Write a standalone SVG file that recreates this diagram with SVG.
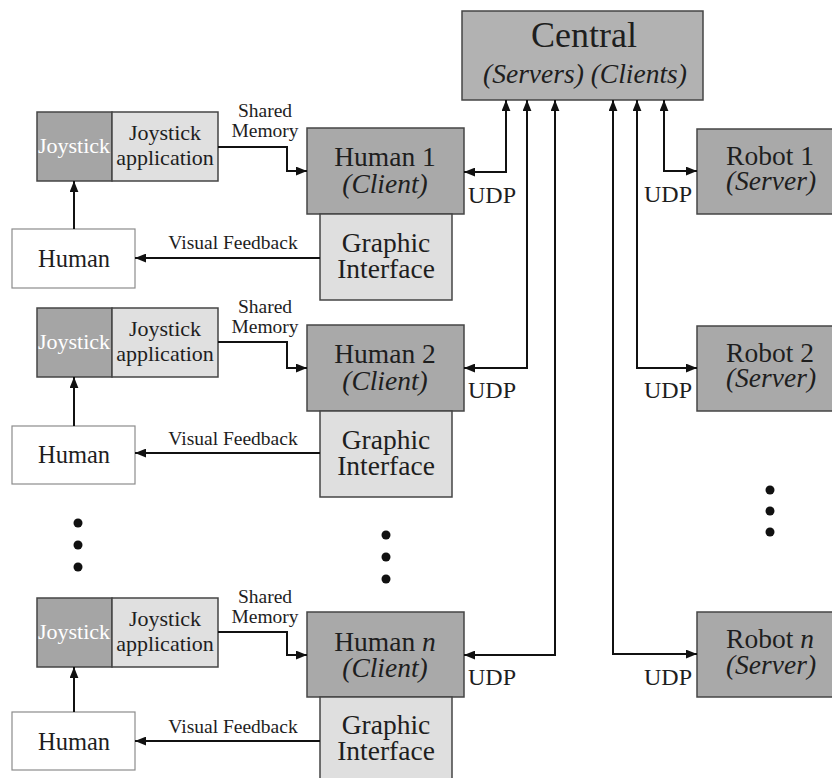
<svg xmlns="http://www.w3.org/2000/svg" width="832" height="778" viewBox="0 0 832 778">
  <defs>
    <marker id="ah" viewBox="0 0 10 8" refX="10" refY="4" markerWidth="11" markerHeight="9" markerUnits="userSpaceOnUse" orient="auto-start-reverse">
      <path d="M0,0 L10,4 L0,8 Z" fill="#111"/>
    </marker>
    <style>
      text { font-family: "Liberation Serif", "Times New Roman", serif; fill: #1e1e1e; text-anchor: middle; }
      .it { font-style: italic; }
      .box { stroke: #454545; stroke-width: 1.5; }
      .central { fill: #b2b2b2; }
      .client { fill: #a9a9a9; }
      .robot { fill: #a9a9a9; }
      .gui { fill: #dfdfdf; }
      .joy { fill: #a5a5a5; }
      .app { fill: #e0e0e0; }
      .human { fill: #ffffff; stroke: #8c8c8c; stroke-width: 1.2; }
      .big { font-size: 36px; }
      .m { font-size: 27.5px; }
      .udp { font-size: 24px; text-anchor: start; }
      .j { font-size: 22px; }
      .jw { font-size: 22px; fill: #ffffff; }
      .h { font-size: 24.5px; }
      .lbl { font-size: 19.5px; }
      .wire { fill: none; stroke: #111; stroke-width: 2; }
      .dot { fill: #111; }
    </style>
  </defs>

  <!-- Central -->
  <g id="central">
    <rect class="box central" x="462" y="11" width="241" height="89"/>
    <text class="big" x="584" y="47">Central</text>
    <text class="m it" x="585" y="83">(Servers) (Clients)</text>
  </g>

  <!-- Human clients -->
  <g id="human1">
    <rect class="box client" x="307" y="128" width="157" height="86"/>
    <text class="m" x="385" y="166">Human 1</text>
    <text class="m it" x="385" y="193">(Client)</text>
  </g>
  <g id="gui1">
    <rect class="box gui" x="320" y="214" width="132" height="86"/>
    <text class="m" x="386" y="252">Graphic</text>
    <text class="m" x="386" y="278">Interface</text>
  </g>
  <g id="human2">
    <rect class="box client" x="307" y="325" width="157" height="86"/>
    <text class="m" x="385" y="363">Human 2</text>
    <text class="m it" x="385" y="390">(Client)</text>
  </g>
  <g id="gui2">
    <rect class="box gui" x="320" y="411" width="132" height="86"/>
    <text class="m" x="386" y="449">Graphic</text>
    <text class="m" x="386" y="475">Interface</text>
  </g>
  <g id="humann">
    <rect class="box client" x="307" y="612" width="157" height="85"/>
    <text class="m" x="385" y="651">Human <tspan class="it">n</tspan></text>
    <text class="m it" x="385" y="677">(Client)</text>
  </g>
  <g id="guin">
    <rect class="box gui" x="320" y="697" width="132" height="86"/>
    <text class="m" x="386" y="734">Graphic</text>
    <text class="m" x="386" y="760">Interface</text>
  </g>

  <!-- Robots -->
  <g id="robot1">
    <rect class="box robot" x="697" y="129" width="140" height="85"/>
    <text class="m" x="770" y="165">Robot 1</text>
    <text class="m it" x="771" y="190">(Server)</text>
  </g>
  <g id="robot2">
    <rect class="box robot" x="697" y="326" width="140" height="85"/>
    <text class="m" x="770" y="362">Robot 2</text>
    <text class="m it" x="771" y="387">(Server)</text>
  </g>
  <g id="robotn">
    <rect class="box robot" x="697" y="612" width="140" height="85"/>
    <text class="m" x="770" y="648">Robot <tspan class="it">n</tspan></text>
    <text class="m it" x="771" y="674">(Server)</text>
  </g>

  <!-- Joystick units and operators -->
  <g id="joystick1">
    <rect class="box joy" x="37" y="112" width="75" height="69"/>
    <rect class="box app" x="112" y="112" width="106" height="69"/>
    <text class="jw" x="74" y="153">Joystick</text>
    <text class="j" x="165" y="140">Joystick</text>
    <text class="j" x="165" y="165">application</text>
  </g>
  <g id="operator1">
    <rect class="human" x="12" y="229" width="123" height="59"/>
    <text class="h" x="74" y="267">Human</text>
  </g>
  <g id="joystick2">
    <rect class="box joy" x="37" y="308" width="75" height="69"/>
    <rect class="box app" x="112" y="308" width="106" height="69"/>
    <text class="jw" x="74" y="349">Joystick</text>
    <text class="j" x="165" y="336">Joystick</text>
    <text class="j" x="165" y="361">application</text>
  </g>
  <g id="operator2">
    <rect class="human" x="12" y="426" width="123" height="58"/>
    <text class="h" x="74" y="463">Human</text>
  </g>
  <g id="joystickn">
    <rect class="box joy" x="37" y="598" width="75" height="69"/>
    <rect class="box app" x="112" y="598" width="106" height="69"/>
    <text class="jw" x="74" y="639">Joystick</text>
    <text class="j" x="165" y="626">Joystick</text>
    <text class="j" x="165" y="651">application</text>
  </g>
  <g id="operatorn">
    <rect class="human" x="12" y="712" width="123" height="58"/>
    <text class="h" x="74" y="750">Human</text>
  </g>

  <!-- Connectors -->
  <g id="connectors">
    <!-- operator to joystick -->
    <path class="wire" d="M74,229 V181" marker-end="url(#ah)"/>
    <path class="wire" d="M74,426 V377" marker-end="url(#ah)"/>
    <path class="wire" d="M74,712 V667" marker-end="url(#ah)"/>
    <!-- shared memory -->
    <path class="wire" d="M218,147 H287 V171 H307" marker-end="url(#ah)"/>
    <path class="wire" d="M218,342 H287 V368 H307" marker-end="url(#ah)"/>
    <path class="wire" d="M218,632 H287 V655 H307" marker-end="url(#ah)"/>
    <!-- visual feedback -->
    <path class="wire" d="M320,258 H135" marker-end="url(#ah)"/>
    <path class="wire" d="M320,453 H135" marker-end="url(#ah)"/>
    <path class="wire" d="M320,741 H135" marker-end="url(#ah)"/>
    <!-- UDP links: clients -->
    <path class="wire" d="M506,100 V172 H464" marker-start="url(#ah)" marker-end="url(#ah)"/>
    <path class="wire" d="M527,100 V368 H464" marker-start="url(#ah)" marker-end="url(#ah)"/>
    <path class="wire" d="M555,100 V655 H464" marker-start="url(#ah)" marker-end="url(#ah)"/>
    <!-- UDP links: robots -->
    <path class="wire" d="M664,100 V171 H697" marker-start="url(#ah)" marker-end="url(#ah)"/>
    <path class="wire" d="M637,100 V368 H697" marker-start="url(#ah)" marker-end="url(#ah)"/>
    <path class="wire" d="M613,100 V654 H697" marker-start="url(#ah)" marker-end="url(#ah)"/>

    <text class="lbl" x="265" y="117">Shared</text>
    <text class="lbl" x="265" y="137">Memory</text>
    <text class="lbl" x="265" y="313">Shared</text>
    <text class="lbl" x="265" y="333">Memory</text>
    <text class="lbl" x="265" y="603">Shared</text>
    <text class="lbl" x="265" y="623">Memory</text>
    <text class="lbl" x="233" y="249">Visual Feedback</text>
    <text class="lbl" x="233" y="445">Visual Feedback</text>
    <text class="lbl" x="233" y="733">Visual Feedback</text>

    <text class="udp" x="468" y="203">UDP</text>
    <text class="udp" x="468" y="398">UDP</text>
    <text class="udp" x="468" y="685">UDP</text>
    <text class="udp" x="644" y="202">UDP</text>
    <text class="udp" x="644" y="398">UDP</text>
    <text class="udp" x="644" y="685">UDP</text>
  </g>

  <!-- Ellipses -->
  <g id="ellipses">
    <circle class="dot" cx="78" cy="523" r="4.5"/>
    <circle class="dot" cx="78" cy="545" r="4.5"/>
    <circle class="dot" cx="78" cy="567" r="4.5"/>
    <circle class="dot" cx="386" cy="535" r="4.5"/>
    <circle class="dot" cx="386" cy="557" r="4.5"/>
    <circle class="dot" cx="386" cy="579" r="4.5"/>
    <circle class="dot" cx="770" cy="490" r="4.5"/>
    <circle class="dot" cx="770" cy="511" r="4.5"/>
    <circle class="dot" cx="770" cy="532" r="4.5"/>
  </g>
</svg>
